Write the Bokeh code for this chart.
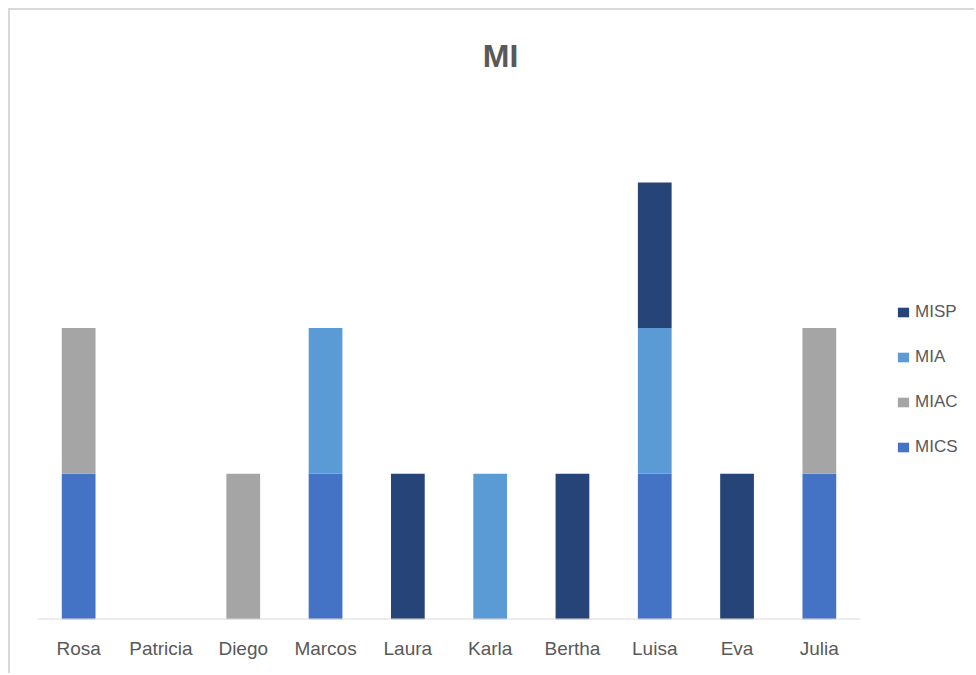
from bokeh.plotting import figure
from bokeh.models import ColumnDataSource, Legend, LegendItem, Label, Range1d, FixedTicker
from bokeh.embed import file_html
from bokeh.resources import INLINE

names = ["Rosa", "Patricia", "Diego", "Marcos", "Laura", "Karla", "Bertha", "Luisa", "Eva", "Julia"]
MICS = [1, 0, 0, 1, 0, 0, 0, 1, 0, 1]
MIAC = [1, 0, 1, 0, 0, 0, 0, 0, 0, 1]
MIA = [0, 0, 0, 1, 0, 1, 0, 1, 0, 0]
MISP = [0, 0, 0, 0, 1, 0, 1, 1, 1, 0]
series = ["MICS", "MIAC", "MIA", "MISP"]
colors = ["#4472C4", "#A5A5A5", "#5B9BD5", "#264478"]
title_text = "MI"

pos = list(range(1, len(names) + 1))
source = ColumnDataSource(dict(pos=pos, names=names, MICS=MICS, MIAC=MIAC, MIA=MIA, MISP=MISP))

# frame spans past the category area so the legend can sit inside it
x_end = 0.5 + 938 / 82.3
p = figure(x_range=Range1d(0.5, x_end), y_range=Range1d(0, 4.18), width=966, height=665,
           output_backend="svg", toolbar_location=None,
           min_border_left=27, min_border_right=1, min_border_top=0, min_border_bottom=56)
p.styles = {"margin-left": "8px", "margin-top": "8px",
            "border-left": "2px solid #d9d9d9", "border-top": "2px solid #d9d9d9"}

rs = p.vbar_stack(series, x="pos", width=0.41, color=colors, line_color=None, source=source)

# category axis baseline
p.segment(x0=[0.5], y0=[0], x1=[len(names) + 0.5], y1=[0], line_color="#d9d9d9", line_width=2)

p.outline_line_color = None
p.xgrid.grid_line_color = None
p.ygrid.grid_line_color = None
p.yaxis.visible = False
p.xaxis.ticker = FixedTicker(ticks=pos)
p.xaxis.major_label_overrides = {i: n for i, n in zip(pos, names)}
p.xaxis.axis_line_color = None
p.xaxis.major_tick_line_color = None
p.xaxis.minor_tick_line_color = None
p.xaxis.major_label_text_font = "Liberation Sans"
p.xaxis.major_label_text_font_size = "19px"
p.xaxis.major_label_text_color = "#595959"
p.xaxis.major_label_standoff = 12

items = [LegendItem(label=s, renderers=[r]) for s, r in zip(series, rs)][::-1]
legend = Legend(items=items, location=(859, 162), orientation="vertical",
                glyph_width=14, glyph_height=12, label_standoff=5,
                label_height=20, spacing=25, padding=0, margin=0,
                border_line_color=None, background_fill_alpha=0,
                label_text_font="Liberation Sans", label_text_font_size="17px",
                label_text_color="#595959")
p.add_layout(legend, "center")

title = Label(x=6.126, y=3.868, text=title_text, text_align="center", text_baseline="middle",
              text_font="Liberation Sans", text_font_size="32px", text_font_style="bold",
              text_color="#595959")
p.add_layout(title)

open("out.html", "w").write(file_html(p, INLINE))
